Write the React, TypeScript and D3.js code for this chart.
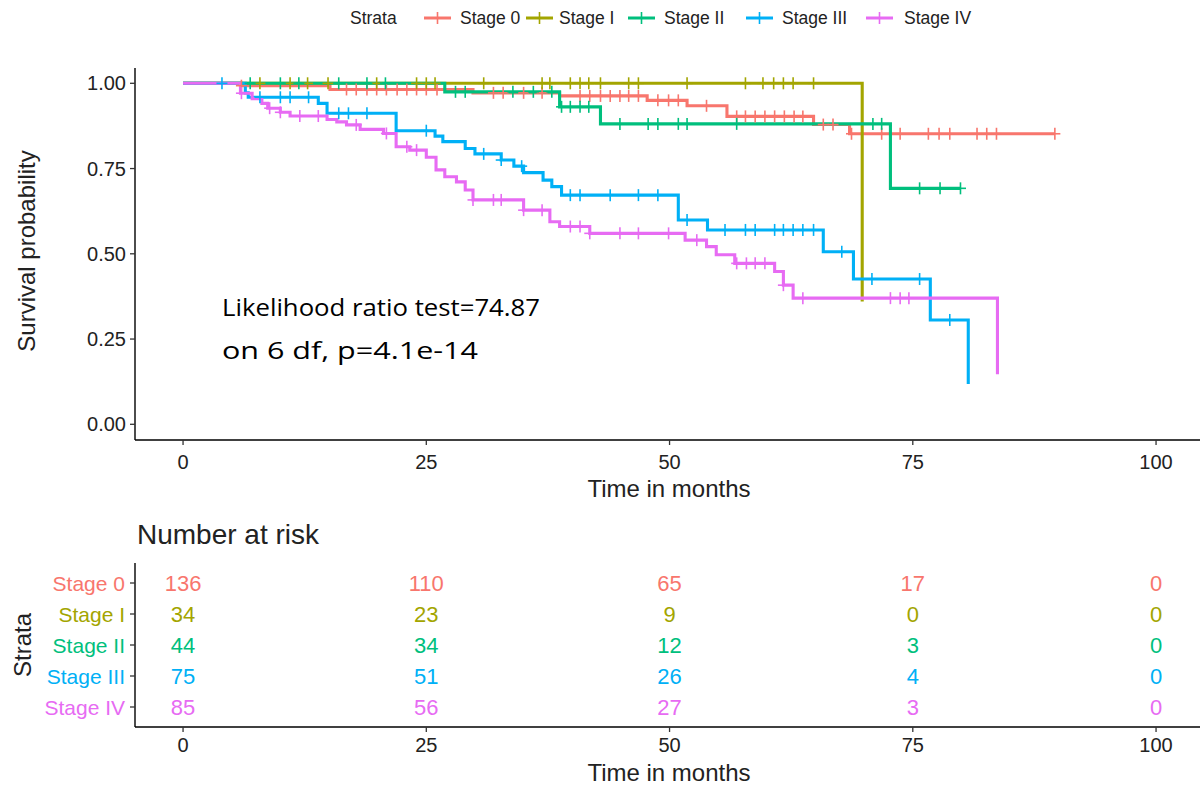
import React from 'react';
import * as d3 from 'd3';

const strata = ['Stage 0', 'Stage I', 'Stage II', 'Stage III', 'Stage IV'];
const colors = ['#F8766D', '#A3A500', '#00BF7D', '#00B0F6', '#E76BF3'];

// Kaplan-Meier step points (time in months, survival)
const stage0Times = [0, 6, 15.1, 29.8, 38.7, 47.7, 51.8, 55.9, 64.8, 68.5, 89.6];
const stage0Surv = [1, 0.993, 0.982, 0.972, 0.963, 0.95, 0.934, 0.903, 0.879, 0.852, 0.852];
const stage1Times = [0, 69.8];
const stage1Surv = [1, 0.36];
const stage2Times = [0, 26.9, 38.7, 42.9, 72.7, 79.9];
const stage2Surv = [1, 0.975, 0.931, 0.881, 0.692, 0.692];
const stage3Times = [0, 6.4, 6.7, 13.9, 14.8, 21.9, 25.9, 26.7, 29, 30, 32.7, 34, 35, 37, 37.9, 38.9, 50.9, 53.9, 65.8, 68.9, 76.8, 80.7];
const stage3Surv = [1, 0.972, 0.959, 0.941, 0.912, 0.861, 0.845, 0.829, 0.809, 0.793, 0.775, 0.757, 0.738, 0.716, 0.697, 0.672, 0.599, 0.57, 0.506, 0.426, 0.306, 0.118];
const stage4Times = [0, 5.9, 7.1, 8.1, 8.7, 10, 11, 14.8, 15.8, 16.8, 18.2, 20.6, 21.9, 23.3, 25, 26, 26.9, 28.1, 29, 29.8, 35, 37.7, 38.7, 41.8, 51.6, 53.8, 54.8, 56.7, 60.8, 61.7, 62.7, 83.7];
const stage4Surv = [1, 0.971, 0.955, 0.941, 0.927, 0.915, 0.904, 0.894, 0.887, 0.878, 0.865, 0.853, 0.814, 0.804, 0.783, 0.746, 0.726, 0.711, 0.687, 0.658, 0.628, 0.594, 0.58, 0.56, 0.54, 0.521, 0.497, 0.472, 0.448, 0.408, 0.37, 0.147];

// censoring times
const stage0Censor = [6, 16.8, 17.8, 18.9, 19.9, 20.9, 22, 23, 24, 25, 26.1, 31.9, 32.9, 35, 36.9, 40.8, 41.8, 42.9, 43.9, 44.9, 45.8, 46.8, 48.8, 49.9, 50.9, 53.8, 56.9, 57.8, 58.8, 59.8, 60.8, 61.8, 62.8, 63.7, 65.8, 66.8, 68.7, 71.8, 73.7, 76.6, 77.7, 78.8, 81.6, 82.6, 83.6, 89.6];
const stage1Censor = [7.9, 11, 12.8, 14.9, 19.9, 24, 25, 25.9, 30.9, 36.9, 37.7, 39.8, 40.8, 41.7, 42.9, 45.8, 46.8, 51.8, 57.8, 59.6, 60.7, 61.7, 62.7, 64.8];
const stage2Censor = [6.9, 10, 11.9, 16, 18.9, 20.8, 28, 29, 33.9, 36, 37.9, 38.9, 39.8, 40.8, 41.7, 44.9, 47.8, 48.8, 50.9, 51.8, 56.9, 70.9, 71.8, 75.7, 77.8, 79.9];
const stage3Censor = [4, 7.9, 10, 11, 12.9, 16, 17, 18.9, 25, 30.9, 32.7, 34.8, 39.8, 40.8, 43.9, 46.8, 48.8, 51.8, 55.7, 57.8, 58.8, 60.8, 61.7, 62.7, 63.7, 64.8, 67.7, 70.8, 75.7, 78.8];
const stage4Censor = [6, 8.9, 10, 12, 13.9, 17.8, 20.9, 23, 24, 29.8, 31.9, 32.7, 35, 36.9, 39.8, 40.8, 41.8, 44.9, 46.8, 49.9, 52.8, 56.9, 57.9, 58.8, 59.8, 61.7, 63.7, 72.7, 73.7, 74.6];

// number at risk
const riskTimes = [0, 25, 50, 75, 100];
const risk0 = [136, 110, 65, 17, 0];
const risk1 = [34, 23, 9, 0, 0];
const risk2 = [44, 34, 12, 3, 0];
const risk3 = [75, 51, 26, 4, 0];
const risk4 = [85, 56, 27, 3, 0];

const xTicks = [0, 25, 50, 75, 100];
const yTicks = [0, 0.25, 0.5, 0.75, 1];

const curves = [
  { times: stage0Times, surv: stage0Surv, censor: stage0Censor, risk: risk0 },
  { times: stage1Times, surv: stage1Surv, censor: stage1Censor, risk: risk1 },
  { times: stage2Times, surv: stage2Surv, censor: stage2Censor, risk: risk2 },
  { times: stage3Times, surv: stage3Surv, censor: stage3Censor, risk: risk3 },
  { times: stage4Times, surv: stage4Surv, censor: stage4Censor, risk: risk4 },
];

const FONT = "'Liberation Sans', Arial, Helvetica, sans-serif";

function survAt(times: number[], surv: number[], t: number) {
  let v = surv[0];
  for (let i = 0; i < times.length; i++) {
    if (times[i] <= t + 1e-9) v = surv[i];
  }
  return v;
}

export default function App() {
  const x = d3.scaleLinear().domain([-5, 105]).range([134.4, 1204.7]);
  const y = d3.scaleLinear().domain([0, 1]).range([424.3, 83.3]);
  const yRisk = d3.scalePoint<string>().domain(strata).range([583, 707]);
  const line = d3
    .line<[number, number]>()
    .x((d) => x(d[0]))
    .y((d) => y(d[1]))
    .curve(d3.curveStepAfter);

  const plotLeft = 135;
  const plotBottom = 440;
  const plotTop = 68;
  const riskTop = 563;
  const riskBottom = 727;
  const right = 1200;
  const tickColor = '#333';
  const textColor = '#222';

  const legendItems = [
    { key: 424, text: 460 },
    { key: 526, text: 559 },
    { key: 628, text: 664 },
    { key: 746, text: 782 },
    { key: 866, text: 904 },
  ];

  const plus = (cx: number, cy: number, color: string, k: string) => (
    <g key={k} stroke={color} strokeWidth={1.6}>
      <line x1={cx - 5.5} x2={cx + 5.5} y1={cy} y2={cy} />
      <line x1={cx} x2={cx} y1={cy - 6} y2={cy + 6} />
    </g>
  );

  return (
    <div style={{ position: 'absolute', left: 0, top: 0 }}>
      <svg width={1200} height={788} style={{ display: 'block', background: '#fff' }} fontFamily={FONT}>
        <rect x={0} y={0} width={1200} height={788} fill="#fff" />
        {/* Legend */}
        <text x={350} y={24} fontSize={17.5} fill={textColor}>Strata</text>
        {legendItems.map((it, i) => (
          <g key={'lg' + i}>
            <line x1={it.key} x2={it.key + 27} y1={18} y2={18} stroke={colors[i]} strokeWidth={3} />
            {plus(it.key + 13.5, 18, colors[i], 'lp' + i)}
            <text x={it.text} y={24} fontSize={17.5} fill={textColor}>{strata[i]}</text>
          </g>
        ))}

        {/* Survival curves */}
        {curves.map((c, i) => {
          const pts: [number, number][] = c.times.map((t, j) => [t, c.surv[j]]);
          return (
            <path key={'c' + i} d={line(pts) || ''} fill="none" stroke={colors[i]} strokeWidth={3.1} />
          );
        })}
        {curves.map((c, i) => (
          <g key={'cen' + i}>
            {c.censor.map((t, j) => plus(x(t), y(survAt(c.times, c.surv, t)), colors[i], 'm' + i + '-' + j))}
          </g>
        ))}

        {/* Main axes */}
        <line x1={plotLeft} x2={plotLeft} y1={plotTop} y2={plotBottom} stroke="#000" strokeWidth={1.4} />
        <line x1={plotLeft} x2={right} y1={plotBottom} y2={plotBottom} stroke="#000" strokeWidth={1.4} />
        {yTicks.map((v) => (
          <g key={'yt' + v}>
            <line x1={plotLeft - 5} x2={plotLeft} y1={y(v)} y2={y(v)} stroke={tickColor} strokeWidth={1.3} />
            <text x={plotLeft - 9} y={y(v)} dy="0.35em" textAnchor="end" fontSize={20} fill={textColor}>
              {d3.format('.2f')(v)}
            </text>
          </g>
        ))}
        {xTicks.map((v) => (
          <g key={'xt' + v}>
            <line x1={x(v)} x2={x(v)} y1={plotBottom} y2={plotBottom + 5} stroke={tickColor} strokeWidth={1.3} />
            <text x={x(v)} y={469} textAnchor="middle" fontSize={20} fill={textColor}>{v}</text>
          </g>
        ))}
        <text x={669} y={497} textAnchor="middle" fontSize={24} fill={textColor}>Time in months</text>
        <text transform={`translate(35,251) rotate(-90)`} textAnchor="middle" fontSize={24} fill={textColor}>
          Survival probability
        </text>

        {/* Annotation */}
        <text x={222} y={316} fontSize={24} fill="#000" fontFamily="'Open Sans', 'Noto Sans', sans-serif" textLength={318} lengthAdjust="spacingAndGlyphs">
          Likelihood ratio test=74.87
        </text>
        <text x={222} y={359} fontSize={24} fill="#000" fontFamily="'Open Sans', 'Noto Sans', sans-serif" textLength={256} lengthAdjust="spacingAndGlyphs">
          on 6 df, p=4.1e-14
        </text>

        {/* Risk table */}
        <text x={137} y={544} fontSize={28} fill={textColor}>Number at risk</text>
        <line x1={plotLeft} x2={plotLeft} y1={riskTop} y2={riskBottom} stroke="#000" strokeWidth={1.4} />
        <line x1={plotLeft} x2={right} y1={riskBottom} y2={riskBottom} stroke="#000" strokeWidth={1.4} />
        {strata.map((s, i) => (
          <g key={'rr' + i}>
            <line x1={plotLeft - 5} x2={plotLeft} y1={yRisk(s)} y2={yRisk(s)} stroke={tickColor} strokeWidth={1.3} />
            <text x={plotLeft - 10} y={yRisk(s)} dy="0.36em" textAnchor="end" fontSize={21} fill={colors[i]}>{s}</text>
            {riskTimes.map((t, j) => (
              <text key={'rv' + j} x={x(t)} y={yRisk(s)} dy="0.36em" textAnchor="middle" fontSize={22} fill={colors[i]}>
                {curves[i].risk[j]}
              </text>
            ))}
          </g>
        ))}
        {xTicks.map((v) => (
          <g key={'rxt' + v}>
            <line x1={x(v)} x2={x(v)} y1={riskBottom} y2={riskBottom + 5} stroke={tickColor} strokeWidth={1.3} />
            <text x={x(v)} y={752} textAnchor="middle" fontSize={20} fill={textColor}>{v}</text>
          </g>
        ))}
        <text x={669} y={781} textAnchor="middle" fontSize={24} fill={textColor}>Time in months</text>
        <text transform={`translate(31,645) rotate(-90)`} textAnchor="middle" fontSize={24} fill={textColor}>Strata</text>
      </svg>
    </div>
  );
}
